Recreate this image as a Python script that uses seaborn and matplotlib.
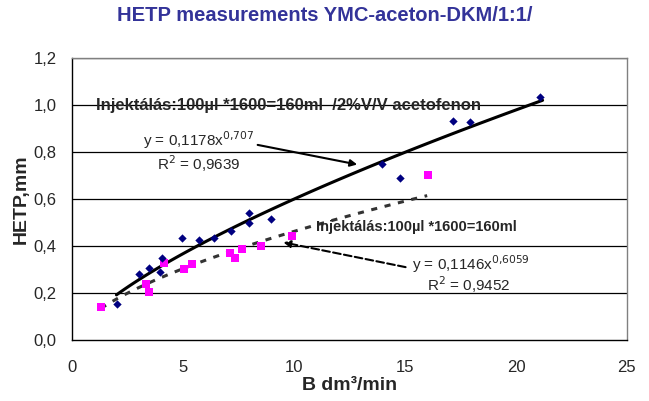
import numpy as np
import pandas as pd
import matplotlib
matplotlib.use("Agg")
import matplotlib.pyplot as plt
import seaborn as sns
from matplotlib.ticker import FuncFormatter

blue_x = [2.03, 3.02, 3.48, 3.96, 4.07, 4.94, 5.74, 6.4, 7.15, 7.99, 7.99, 8.96,
          13.98, 14.77, 17.15, 17.94, 21.08]
blue_y = [0.154, 0.28, 0.308, 0.29, 0.35, 0.433, 0.424, 0.433, 0.464, 0.539, 0.498, 0.516,
          0.748, 0.688, 0.932, 0.929, 1.034]
pink_x = [1.31, 3.33, 3.47, 4.14, 5.06, 5.41, 7.1, 7.34, 7.64, 8.5, 9.92, 16.04]
pink_y = [0.142, 0.237, 0.206, 0.329, 0.303, 0.325, 0.369, 0.35, 0.389, 0.399, 0.445, 0.702]

# power trendlines y = a * x^b  (a, b, x from, x to)
fit1 = (0.1178, 0.707, 2.0, 21.2)
fit2 = (0.1146, 0.6059, 1.3, 16.0)

sns.set_style("white")
plt.rcParams["font.family"] = ["Liberation Sans", "DejaVu Sans"]

fig = plt.figure(figsize=(6.49, 4.01), dpi=100)
ax = fig.add_axes([0.111, 0.152, 0.855, 0.703])

for v in np.arange(0.2, 1.21, 0.2):
    ax.axhline(v, color="black", lw=0.9, zorder=0)

a, b, x0, x1 = fit1
xs = np.linspace(x0, x1, 100)
sns.lineplot(x=xs, y=a * xs ** b, ax=ax, color="black", lw=2.2, zorder=2)
a, b, x0, x1 = fit2
xs = np.linspace(x0, x1, 100)
sns.lineplot(x=xs, y=a * xs ** b, ax=ax, color="#333333", lw=2.2, zorder=2,
             linestyle=(0, (2, 2.5)))

sns.scatterplot(x=pink_x, y=pink_y, ax=ax, marker="s", color="#FF00FF", s=32,
                edgecolor="#FF00FF", linewidth=0, zorder=3)
sns.scatterplot(x=blue_x, y=blue_y, ax=ax, marker="D", color="#000080", s=18,
                edgecolor="#000080", linewidth=0, zorder=4)

ax.set_xlim(0, 25)
ax.set_ylim(0, 1.2)
ax.set_xticks(range(0, 26, 5))
ax.set_yticks(np.arange(0, 1.21, 0.2))
ax.yaxis.set_major_formatter(FuncFormatter(lambda v, p: f"{v:.1f}".replace(".", ",")))
ax.tick_params(axis="x", direction="inout", length=7, labelsize=12, pad=11, color="black")
ax.tick_params(axis="y", direction="out", length=5, labelsize=12, pad=6, color="black")
for s in ["left", "bottom"]:
    ax.spines[s].set_color("black")
    ax.spines[s].set_linewidth(1.0)
for s in ["top", "right"]:
    ax.spines[s].set_color("#808080")
    ax.spines[s].set_linewidth(1.0)

ax.set_xlabel("B dm³/min", fontsize=14, fontweight="bold", labelpad=1)
ax.set_ylabel("HETP,mm", fontsize=14, fontweight="bold", labelpad=3)
fig.suptitle("HETP measurements YMC-aceton-DKM/1:1/", fontsize=14.5, fontweight="bold",
             color="#333399", y=0.985)

ax.text(1.1, 1.0, "Injektálás:100µl *1600=160ml  /2%V/V acetofenon", fontsize=12,
        fontweight="bold", va="center", ha="left")
ax.text(3.2, 0.85, "y = 0,1178x$^{0{,}707}$", fontsize=11, va="center")
ax.text(3.85, 0.75, "R$^2$ = 0,9639", fontsize=11, va="center")
ax.annotate("", xy=(12.97, 0.745), xytext=(8.24, 0.833),
            arrowprops=dict(arrowstyle="-|>", color="black", lw=1.5, mutation_scale=10))

ax.text(11.0, 0.48, "Injektálás:100µl *1600=160ml", fontsize=10.5, fontweight="bold",
        va="center", ha="left")
ax.text(15.3, 0.322, "y = 0,1146x$^{0{,}6059}$", fontsize=11, va="center")
ax.text(16.0, 0.236, "R$^2$ = 0,9452", fontsize=11, va="center")
ax.annotate("", xy=(9.4, 0.418), xytext=(15.15, 0.308),
            arrowprops=dict(arrowstyle="-|>", color="black", lw=1.5, ls="--",
                            mutation_scale=10))

fig.savefig("out.png", dpi=100)
